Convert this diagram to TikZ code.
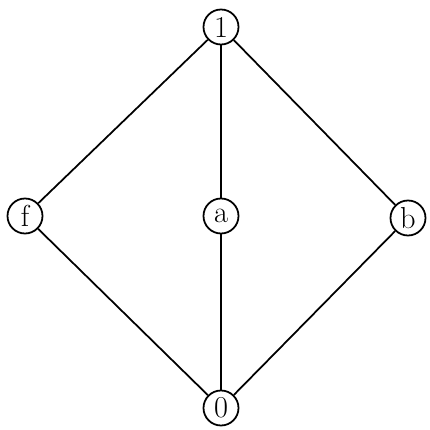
\documentclass[tikz,border=0pt]{standalone}
\usetikzlibrary{positioning}
\tikzset{
  every picture/.style={line width=1pt},
  elem/.style={draw, circle, fill=white, inner sep=0pt, minimum size=0.7cm, font=\LARGE},
  edge/.style={draw, line width=1pt},
}
\begin{document}
\begin{tikzpicture}
  \useasboundingbox (0,0) rectangle (8.6,8.6);
  \node[elem] (top) at (4.42,8.06) {1};
  \node[elem] (f) at (0.5,4.28) {f};
  \node[elem] (a) at (4.42,4.28) {a};
  \node[elem] (b) at (8.16,4.24) {b};
  \node[elem] (bot) at (4.42,0.44) {0};
  \foreach \x in {f,a,b} {
    \draw[edge] (top) -- (\x);
    \draw[edge] (\x) -- (bot);
  }
\end{tikzpicture}
\end{document}
